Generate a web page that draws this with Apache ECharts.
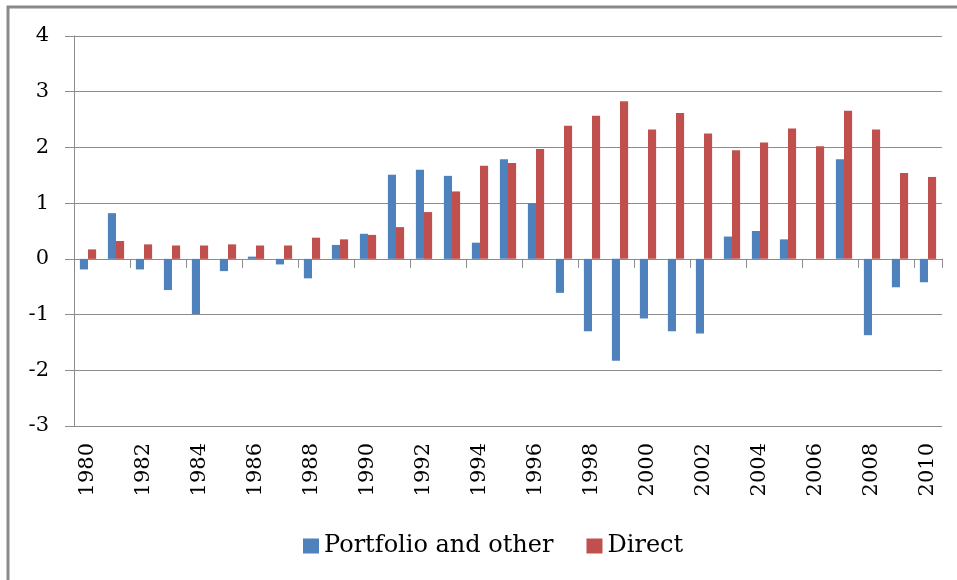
<!DOCTYPE html>
<html>
<head>
<meta charset="utf-8">
<script src="https://cdn.jsdelivr.net/npm/echarts@6/dist/echarts.min.js"></script>
<style>
  html, body { margin: 0; padding: 0; background: #fff; }
  #chart { width: 957px; height: 580px; }
</style>
</head>
<body>
<div id="chart"></div>
<script>
// Years on the category axis
const years = [];
for (let y = 1980; y <= 2010; y++) years.push(String(y));

// Portfolio and other flows
const portfolio = [
  -0.19, 0.82, -0.19, -0.56, -0.99, -0.22, 0.04, -0.10, -0.35, 0.25,
  0.45, 1.51, 1.60, 1.49, 0.29, 1.79, 1.00, -0.61, -1.30, -1.83,
  -1.07, -1.30, -1.34, 0.40, 0.50, 0.35, 0.00, 1.79, -1.37, -0.51,
  -0.42
];

// Direct investment flows
const direct = [
  0.17, 0.32, 0.26, 0.24, 0.24, 0.26, 0.24, 0.24, 0.38, 0.35,
  0.43, 0.57, 0.84, 1.21, 1.67, 1.72, 1.97, 2.39, 2.57, 2.83,
  2.32, 2.62, 2.25, 1.95, 2.09, 2.34, 2.02, 2.66, 2.32, 1.54,
  1.47
];

const seriesNames = ['Portfolio and other', 'Direct'];
const yTicks = { min: -3, max: 4, interval: 1 };

const font = 'DejaVu Serif';
const gridColor = '#8c8c8c';

const chart = echarts.init(document.getElementById('chart'));
chart.setOption({
  animation: false,
  backgroundColor: '#ffffff',
  graphic: [{
    type: 'rect',
    shape: { x: 8, y: 7, width: 960, height: 590 },
    style: { fill: 'none', stroke: '#8a8a8a', lineWidth: 3 },
    silent: true
  }],
  grid: { left: 74, right: 15, top: 36, bottom: 154, containLabel: false },
  legend: {
    top: 529,
    left: 298,
    icon: 'rect',
    itemWidth: 16,
    itemHeight: 15,
    itemGap: 33,
    data: seriesNames,
    textStyle: { fontFamily: font, fontSize: 24, color: '#000', padding: [0, 0, 0, 0] }
  },
  xAxis: [{
    type: 'category',
    data: years,
    position: 'bottom',
    boundaryGap: true,
    axisLine: { show: false, onZero: false },
    axisTick: { show: false },
    axisLabel: {
      interval: 1,
      rotate: 90,
      margin: 17,
      fontFamily: font,
      fontSize: 21,
      color: '#000'
    },
    splitLine: { show: false }
  }, {
    // tick marks between years, drawn along the zero line
    type: 'category',
    data: years,
    position: 'bottom',
    boundaryGap: true,
    axisLine: { show: true, onZero: true, onZeroAxisIndex: 0, lineStyle: { color: gridColor, width: 1 } },
    axisTick: { show: true, inside: false, length: 9, lineStyle: { color: gridColor, width: 1 } },
    axisLabel: { show: false },
    splitLine: { show: false }
  }],
  yAxis: {
    type: 'value',
    min: yTicks.min,
    max: yTicks.max,
    interval: yTicks.interval,
    axisLine: { show: true, onZero: false, lineStyle: { color: gridColor, width: 1 } },
    axisTick: { show: true, inside: false, length: 9, lineStyle: { color: gridColor, width: 1 } },
    axisLabel: { margin: 25, fontFamily: font, fontSize: 21, color: '#000' },
    splitLine: { show: true, lineStyle: { color: gridColor, width: 1 } }
  },
  series: [{
    name: seriesNames[0],
    type: 'bar',
    xAxisIndex: 0,
    data: portfolio,
    barGap: '0%',
    barCategoryGap: '42%',
    itemStyle: { color: '#4F81BD' }
  }, {
    name: seriesNames[1],
    type: 'bar',
    xAxisIndex: 0,
    data: direct,
    barGap: '0%',
    barCategoryGap: '42%',
    itemStyle: { color: '#C0504D' }
  }]
});
</script>
</body>
</html>
